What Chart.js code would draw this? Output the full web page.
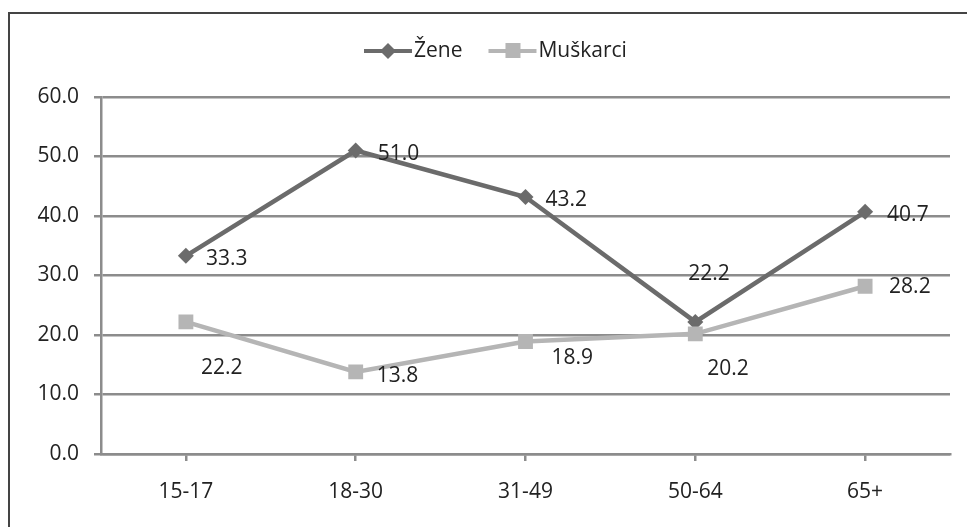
<!DOCTYPE html>
<html>
<head>
<meta charset="utf-8">
<script src="https://cdn.jsdelivr.net/npm/chart.js@4"></script>
<style>
    html, body { margin: 0; padding: 0; background: #fff; }
    #wrap { width: 967px; height: 527px; }
</style>
</head>
<body>
<div id="wrap"><canvas id="chart"></canvas></div>
<script>
const categories = ['15-17', '18-30', '31-49', '50-64', '65+'];
const zene = [33.3, 51.0, 43.2, 22.2, 40.7];
const muskarci = [22.2, 13.8, 18.9, 20.2, 28.2];
const seriesNames = ['Žene', 'Muškarci'];

const FONT = '"Open Sans", sans-serif';
const FSIZE = 21;
const GRID = '#8c8c8c';
const DARK = '#6b6b6b';
const LIGHT = '#b5b5b5';

// label offsets from each point (px), as placed in the original
const labelOffsets = {
    0: [[20, 3], [22, 3], [20, 3], [-7, -48], [22, 3]],
    1: [[15, 46], [21, 4], [26, 16], [12, 35], [24, 1]]
};

const extras = {
    id: 'extras',
    beforeDraw(chart) {
        const ctx = chart.ctx;
        ctx.save();
        ctx.fillStyle = '#fff';
        ctx.fillRect(0, 0, chart.width, chart.height);
        ctx.strokeStyle = '#444';
        ctx.lineWidth = 2;
        ctx.beginPath();
        ctx.moveTo(9, chart.height + 5);
        ctx.lineTo(9, 13);
        ctx.lineTo(chart.width + 5, 13);
        ctx.stroke();
        ctx.restore();
    },
    afterDatasetsDraw(chart) {
        const ctx = chart.ctx;
        ctx.save();
        ctx.font = FSIZE + 'px ' + FONT;
        ctx.fillStyle = '#222';
        ctx.textAlign = 'left';
        ctx.textBaseline = 'middle';
        chart.data.datasets.forEach((ds, i) => {
            const meta = chart.getDatasetMeta(i);
            meta.data.forEach((pt, j) => {
                const off = labelOffsets[i][j];
                ctx.fillText(ds.data[j].toFixed(1), pt.x + off[0], pt.y + off[1]);
            });
        });

        // legend: line + marker + name
        const y = 51;
        let x = 364;
        chart.data.datasets.forEach((ds, i) => {
            ctx.strokeStyle = ds.borderColor;
            ctx.lineWidth = 4;
            ctx.beginPath();
            ctx.moveTo(x, y);
            ctx.lineTo(x + 48, y);
            ctx.stroke();
            ctx.fillStyle = ds.borderColor;
            if (ds.pointStyle === 'rectRot') {
                ctx.beginPath();
                ctx.moveTo(x + 24, y - 8);
                ctx.lineTo(x + 32, y);
                ctx.lineTo(x + 24, y + 8);
                ctx.lineTo(x + 16, y);
                ctx.closePath();
                ctx.fill();
            } else {
                ctx.fillRect(x + 17, y - 8, 15, 15);
            }
            ctx.fillStyle = '#222';
            ctx.fillText(ds.label, x + 50, y);
            x += 50 + ctx.measureText(ds.label).width + 26;
        });
        ctx.restore();
    }
};

new Chart(document.getElementById('chart'), {
    type: 'line',
    data: {
        labels: categories,
        datasets: [
            {
                label: seriesNames[0],
                data: zene,
                borderColor: DARK,
                backgroundColor: DARK,
                borderWidth: 4.5,
                pointStyle: 'rectRot',
                pointRadius: 8,
                pointBorderWidth: 0,
                order: 1
            },
            {
                label: seriesNames[1],
                data: muskarci,
                borderColor: LIGHT,
                backgroundColor: LIGHT,
                borderWidth: 4.5,
                pointStyle: 'rect',
                pointRadius: 10.5,
                pointBorderWidth: 0,
                order: 0
            }
        ]
    },
    options: {
        responsive: true,
        maintainAspectRatio: false,
        animation: false,
        layout: { padding: { left: 0, top: 97, right: 17, bottom: 0 } },
        plugins: {
            legend: { display: false },
            tooltip: { enabled: false }
        },
        scales: {
            x: {
                offset: true,
                afterFit: s => { s.height = 73; },
                grid: { drawOnChartArea: false, color: GRID, lineWidth: 2.5, tickLength: 7 },
                border: { color: GRID, width: 2.5 },
                ticks: { color: '#222', font: { family: FONT, size: FSIZE }, padding: 18 }
            },
            y: {
                min: 0,
                max: 60,
                afterFit: s => { s.width = 101; },
                grid: { color: GRID, lineWidth: 2.5, tickLength: 7 },
                border: { color: GRID, width: 2.5 },
                ticks: {
                    stepSize: 10,
                    color: '#222',
                    font: { family: FONT, size: FSIZE },
                    padding: 15,
                    callback: v => v.toFixed(1)
                }
            }
        }
    },
    plugins: [extras]
});
</script>
</body>
</html>
